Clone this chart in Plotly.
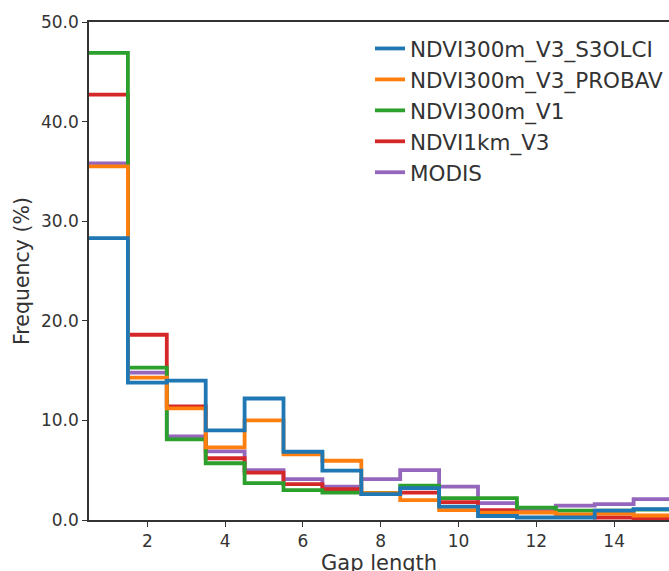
import plotly.graph_objects as go

gap_length = [1, 2, 3, 4, 5, 6, 7, 8, 9, 10, 11, 12, 13, 14, 15]

s3olci = [28.3, 13.8, 14.0, 9.0, 12.2, 6.85, 4.95, 2.6, 3.2, 1.35, 0.4, 0.25, 0.25, 0.95, 1.1]
probav = [35.5, 14.3, 11.2, 7.3, 10.0, 6.6, 5.95, 2.7, 2.0, 1.0, 0.75, 0.75, 0.55, 0.65, 0.45]
v1 = [46.9, 15.3, 8.1, 5.7, 3.7, 3.0, 2.75, 2.7, 3.45, 2.2, 2.2, 1.25, 0.95, 0.95, 1.05]
km1 = [42.7, 18.6, 11.4, 6.2, 4.75, 3.6, 3.1, 2.65, 2.75, 1.8, 1.0, 0.8, 0.3, 0.25, 0.15]
modis = [35.8, 14.8, 8.4, 6.9, 5.0, 4.1, 3.35, 4.1, 5.0, 3.35, 1.7, 1.2, 1.45, 1.6, 2.1]

names = ["NDVI300m_V3_S3OLCI", "NDVI300m_V3_PROBAV", "NDVI300m_V1", "NDVI1km_V3", "MODIS"]
series = [s3olci, probav, v1, km1, modis]
colors = ["#1f77b4", "#ff7f0e", "#2ca02c", "#d62728", "#9467bd"]

edges = [c - 0.5 for c in gap_length] + [gap_length[-1] + 0.5]

fig = go.Figure()
# draw in reverse so that the first series is on top
for i in reversed(range(len(names))):
    vals = series[i]
    fig.add_trace(go.Scatter(
        x=edges, y=vals + [vals[-1]], mode="lines", line_shape="hv",
        line=dict(color=colors[i], width=3.8), name=names[i],
        legendrank=i + 1, legendgroup=names[i],
    ))

font = "DejaVu Sans"
fig.update_layout(
    width=669, height=571,
    margin=dict(l=89, r=0, t=22, b=51),
    paper_bgcolor="white", plot_bgcolor="white",
    font=dict(family=font, color="#333333", size=17),
    showlegend=True,
    legend=dict(x=0.4845, y=0.988, xanchor="left", yanchor="top",
                bgcolor="rgba(0,0,0,0)", borderwidth=0,
                font=dict(size=21.5, color="#333333"),
                tracegroupgap=1, traceorder="normal"),
    annotations=[dict(text="Gap length", xref="paper", yref="paper",
                      x=0.5, y=-43 / 498, xanchor="center", yanchor="middle",
                      showarrow=False, font=dict(size=21, color="#333333"))],
)
fig.update_xaxes(
    range=[0.5, 15.41], tick0=0, dtick=2, ticks="outside", ticklen=5,
    tickwidth=1.3, tickcolor="#333333", showline=True, linecolor="#333333",
    linewidth=1.5, mirror=True, showgrid=False, zeroline=False,
    tickfont=dict(size=17), automargin=False,
)
fig.update_yaxes(
    range=[0, 50], tickvals=[0, 10, 20, 30, 40, 50], tickformat=".1f",
    ticks="outside", ticklen=5, tickwidth=1.3, tickcolor="#333333",
    showline=True, linecolor="#333333", linewidth=1.5, mirror=False,
    showgrid=False, zeroline=False, tickfont=dict(size=17), automargin=False,
    title=dict(text="Frequency (%)", font=dict(size=20.5), standoff=6),
)
fig.write_html("out.html")
